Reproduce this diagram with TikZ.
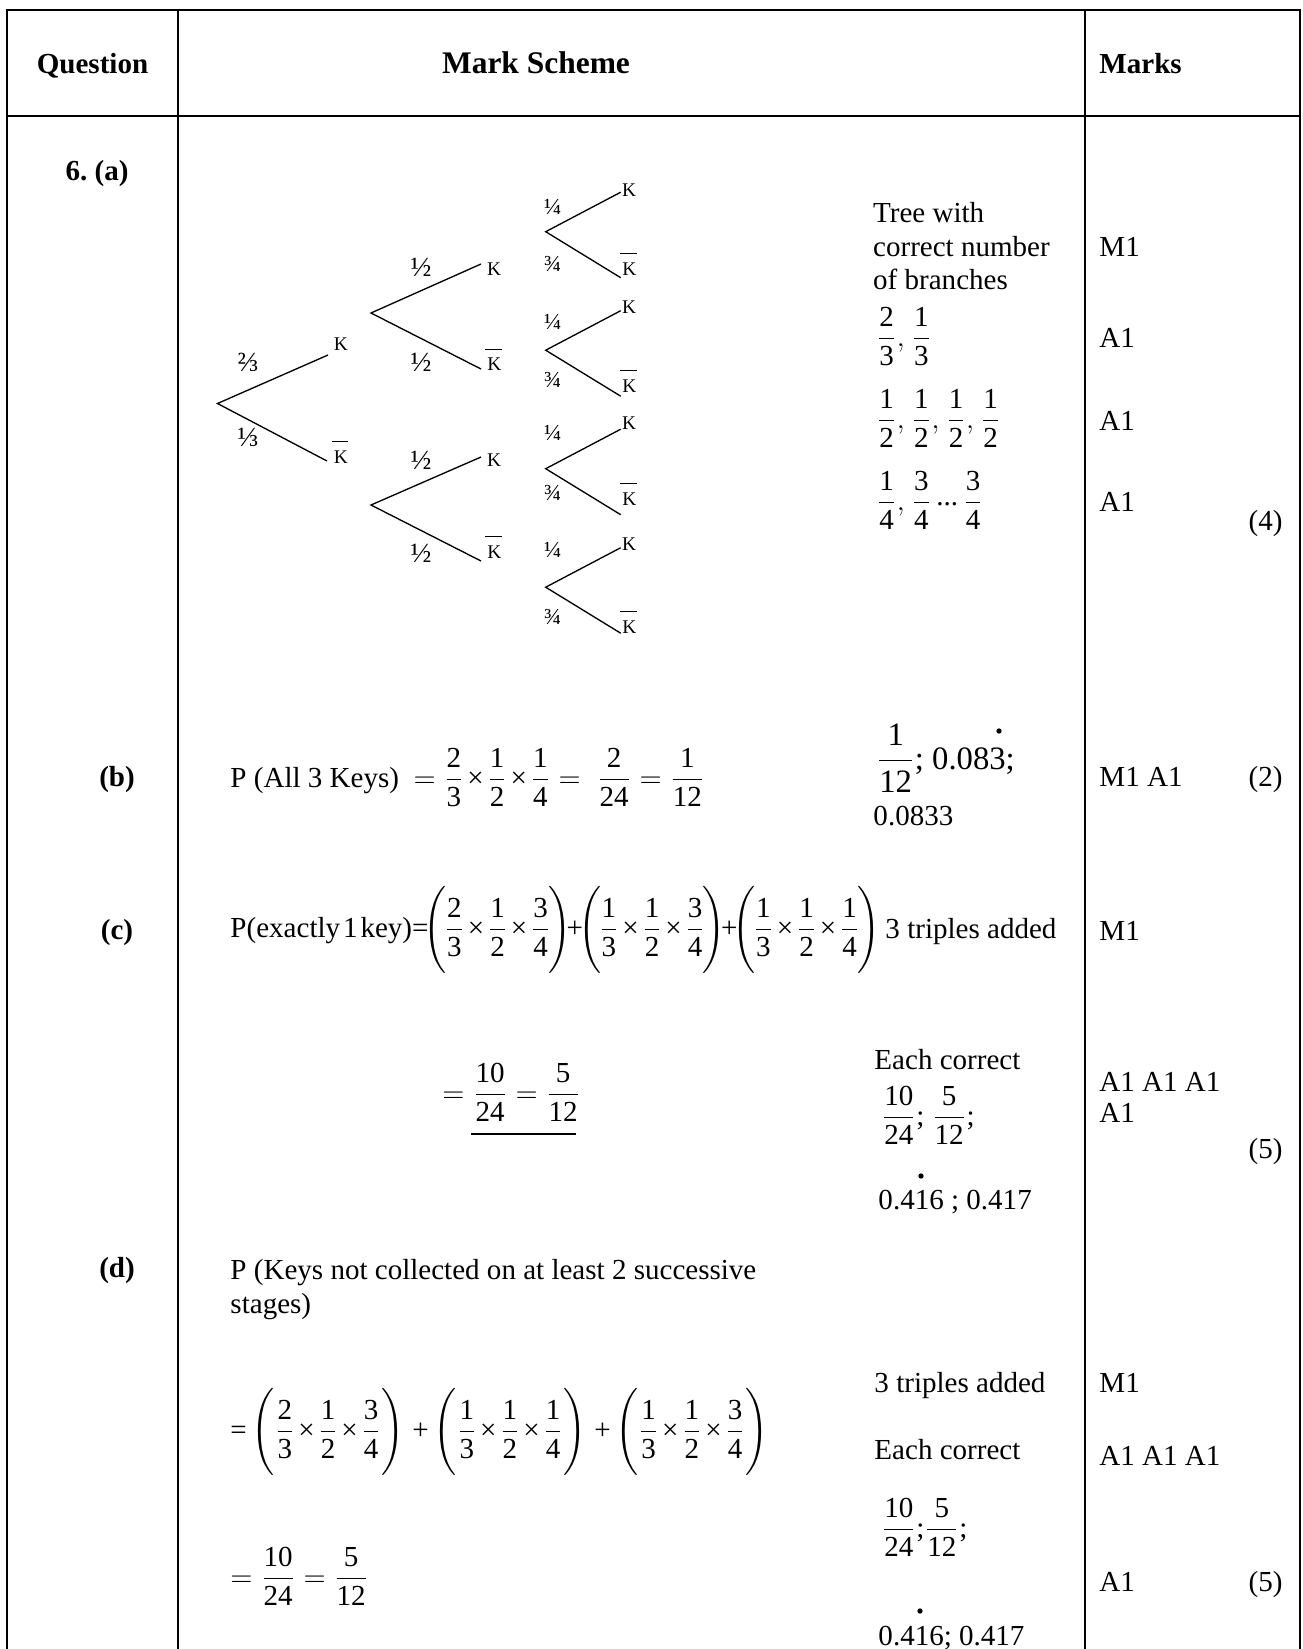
\documentclass[12pt,tikz,border=0pt]{standalone}
\usepackage{amsmath}
\usepackage{fontspec}
\setmainfont{Liberation Serif}

\newcommand{\fr}[2]{\dfrac{\mbox{#1}}{\mbox{#2}}}
\newcommand{\tm}{\mskip2mu\mbox{×}\mskip2mu}
\newcommand{\Kb}{$\overline{\mbox{\rule{0pt}{0.95em}\kern0.1em K\kern0.03em}}$}
% triple product in large brackets, #4 = inner kern
\newcommand{\trip}[4]{\Biggl(\kern#4\fr{#1}{3}\tm\fr{1}{2}\tm\fr{#2}{#3}\kern#4\Biggr)}

\tikzset{
  tbl/.style={line width=0.85pt},
  branch/.style={line width=0.55pt},
  txt/.style={anchor=base west, inner sep=0pt},
  rtxt/.style={anchor=base east, inner sep=0pt},
  head/.style={anchor=base, inner sep=0pt, font=\fontsize{12}{14}\bfseries\selectfont},
  klab/.style={anchor=base west, inner sep=0pt, font=\fontsize{8}{9}\selectfont},
  half/.style={inner sep=0pt, font=\fontsize{11.5}{12}\selectfont},
  quart/.style={inner sep=0pt, font=\fontsize{9.5}{10}\selectfont},
  rdot/.style={circle, fill, inner sep=0pt, minimum size=2.2pt},
}

\begin{document}
\begin{tikzpicture}[x=0.4132pt, y=-0.4132pt, font=\fontsize{12}{14}\selectfont]
	\useasboundingbox (0, 0) rectangle (1302, 1649);
	%%%%% TABLE %%%%%
	\draw[tbl] (7, 1670) -- (7, 10) -- (1300, 10) -- (1300, 1670);
	\draw[tbl] (178, 10) -- (178, 1670);
	\draw[tbl] (1085, 10) -- (1085, 1670);
	\draw[tbl] (7, 116) -- (1300, 116);
	
	\node[head] (hq) at (92.5, 73) {Question};
	\node[head, font=\fontsize{13}{15}\bfseries\selectfont] (hm) at (536, 73) {Mark Scheme};
	\node[head, anchor=base west] (hk) at (1099, 73) {Marks};
	
	%%%%% (a) TREE %%%%%
	\node[head] (qa) at (97, 180) {6.~(a)};
	
	\coordinate (r) at (217.5, 403.5);
	\coordinate (e1) at (328, 355);
	\coordinate (e2) at (327, 461);
	\draw[branch] (e1) -- (r) -- (e2);
	\node[klab] (k1) at (333.3, 350) {K};
	\node[klab] (k2) at (331.5, 463.3) {\Kb};
	\node[half] (p1) at (248, 362) {⅔};
	\node[half] (p2) at (248, 437) {⅓};
	
	\coordinate (f1) at (371, 313);
	\coordinate (f1u) at (481, 264);
	\coordinate (f1d) at (481, 369);
	\draw[branch] (f1u) -- (f1) -- (f1d);
	\node[klab] (k11) at (486.7, 275) {K};
	\node[klab] (k12) at (485, 370.7) {\Kb};
	\node[half] (p11) at (421, 267) {½};
	\node[half] (p12) at (421, 362) {½};
	
	\coordinate (f2) at (371, 505);
	\coordinate (f2u) at (481, 457);
	\coordinate (f2d) at (481, 561);
	\draw[branch] (f2u) -- (f2) -- (f2d);
	\node[klab] (k21) at (486.7, 466.7) {K};
	\node[klab] (k22) at (485, 558.3) {\Kb};
	\node[half] (p21) at (421, 460) {½};
	\node[half] (p22) at (421, 553) {½};
	
	\coordinate (g1) at (545.7, 231.7);
	\coordinate (g1u) at (620.7, 192.2);
	\coordinate (g1d) at (620.7, 277.7);
	\draw[branch] (g1u) -- (g1) -- (g1d);
	\node[klab] (k111) at (621.7, 196.5) {K};
	\node[klab] (k112) at (620, 275) {\Kb};
	\node[quart] (p111) at (552.7, 206.7) {¼};
	\node[quart] (p112) at (552.7, 264) {¾};
	
	\coordinate (g2) at (545.7, 350.2);
	\coordinate (g2u) at (620.7, 310.7);
	\coordinate (g2d) at (620.7, 396.2);
	\draw[branch] (g2u) -- (g2) -- (g2d);
	\node[klab] (k121) at (621.7, 313) {K};
	\node[klab] (k122) at (620, 392) {\Kb};
	\node[quart] (p121) at (552.7, 321.7) {¼};
	\node[quart] (p122) at (552.7, 380) {¾};
	
	\coordinate (g3) at (545.7, 468.7);
	\coordinate (g3u) at (620.7, 429.2);
	\coordinate (g3d) at (620.7, 514.7);
	\draw[branch] (g3u) -- (g3) -- (g3d);
	\node[klab] (k211) at (621.7, 429) {K};
	\node[klab] (k212) at (620, 505) {\Kb};
	\node[quart] (p211) at (552.7, 433) {¼};
	\node[quart] (p212) at (552.7, 493) {¾};
	
	\coordinate (g4) at (545.7, 587.2);
	\coordinate (g4u) at (620.7, 547.7);
	\coordinate (g4d) at (620.7, 633.2);
	\draw[branch] (g4u) -- (g4) -- (g4d);
	\node[klab] (k221) at (621.7, 550) {K};
	\node[klab] (k222) at (620, 633) {\Kb};
	\node[quart] (p221) at (552.7, 550) {¼};
	\node[quart] (p222) at (552.7, 616.7) {¾};
	
	\node[txt] (ta1) at (872.7, 222) {Tree with};
	\node[txt] (ta2) at (872.7, 256) {correct number};
	\node[txt] (ta3) at (872.7, 289) {of branches};
	\node[txt] (ta4) at (876, 346) {$\fr{2}{3},\mskip1mu\fr{1}{3}$};
	\node[txt] (ta5) at (876, 428) {$\fr{1}{2},\mskip1mu\fr{1}{2},\mskip1mu\fr{1}{2},\mskip1mu\fr{1}{2}$};
	\node[txt] (ta6) at (876, 510) {$\fr{1}{4},\mskip1mu\fr{3}{4}\mskip3mu\mbox{\raisebox{0.35ex}{...}}\mskip3mu\fr{3}{4}$};
	\node[txt] (ma1) at (1099, 256) {M1};
	\node[txt] (ma2) at (1099, 347) {A1};
	\node[txt] (ma3) at (1099, 430) {A1};
	\node[txt] (ma4) at (1099, 511) {A1};
	\node[rtxt] (ma5) at (1283, 530) {(4)};
	
	%%%%% (b) %%%%%
	\node[head] (qb) at (117, 786) {(b)};
	\node[txt] (sb1) at (230, 787) {P (All 3 Keys)\ \ $=\fr{2}{3}\tm\fr{1}{2}\tm\fr{1}{4}=\;\fr{2}{24}=\fr{1}{12}$};
	\node[txt, font=\fontsize{13.5}{16}\selectfont] (tb1) at (876, 769) {$\fr{1}{12}$; 0.083;};
	\node[rdot] (db1) at (999, 731) {};
	\node[txt] (tb2) at (873, 825) {0.0833};
	\node[txt] (mb1) at (1099, 786) {M1 A1};
	\node[rtxt] (mb2) at (1283, 786) {(2)};
	
	%%%%% (c) %%%%%
	\node[head] (qc) at (117, 939) {(c)};
	\node[txt] (sc1) at (230, 937) {$\mbox{P(exactly\kern0.1em 1\kern0.1em key)=}\!\trip{2}{3}{4}{-1pt}\!\mbox{+}\!\trip{1}{3}{4}{-1pt}\!\mbox{+}\!\trip{1}{1}{4}{-1pt}$};
	\node[txt] (tc1) at (885, 938) {3 triples added};
	\node[txt] (mc1) at (1099, 940) {M1};
	\node[txt] (sc2) at (442, 1102) {$=\fr{10}{24}=\fr{5}{12}$};
	\draw[branch] (471, 1134) -- (576, 1134);
	\node[txt] (tc2) at (874, 1069) {Each correct};
	\node[txt] (tc3) at (881, 1125) {$\fr{10}{24}$; $\fr{5}{12}$;};
	\node[txt] (tc4) at (878, 1209) {0.416 ; 0.417};
	\node[rdot] (dc1) at (921, 1176) {};
	\node[txt] (mc2) at (1099, 1091) {A1 A1 A1};
	\node[txt] (mc3) at (1099, 1122) {A1};
	\node[rtxt] (mc4) at (1283, 1158) {(5)};
	
	%%%%% (d) %%%%%
	\node[head] (qd) at (117, 1277) {(d)};
	\node[txt] (sd1) at (230, 1279) {P (Keys not collected on at least 2 successive};
	\node[txt] (sd2) at (230, 1313) {stages)};
	\node[txt] (td1) at (874, 1392) {3 triples added};
	\node[txt] (md1) at (1099, 1392) {M1};
	\node[txt] (sd3) at (230, 1439) {$\mbox{=}\mskip3mu\trip{2}{3}{4}{0pt}\;\mbox{+}\,\trip{1}{1}{4}{0pt}\;\mbox{+}\,\trip{1}{3}{4}{0pt}$};
	\node[txt] (td2) at (874, 1459) {Each correct};
	\node[txt] (md2) at (1099, 1465) {A1 A1 A1};
	\node[txt] (sd4) at (230, 1586) {$=\fr{10}{24}=\fr{5}{12}$};
	\node[txt] (td3) at (881, 1537) {$\fr{10}{24}$;$\fr{5}{12}$;};
	\node[txt] (td4) at (878, 1645) {0.416; 0.417};
	\node[rdot] (dd1) at (920, 1611) {};
	\node[txt] (md3) at (1099, 1591) {A1};
	\node[rtxt] (md4) at (1283, 1591) {(5)};
\end{tikzpicture}
\end{document}
